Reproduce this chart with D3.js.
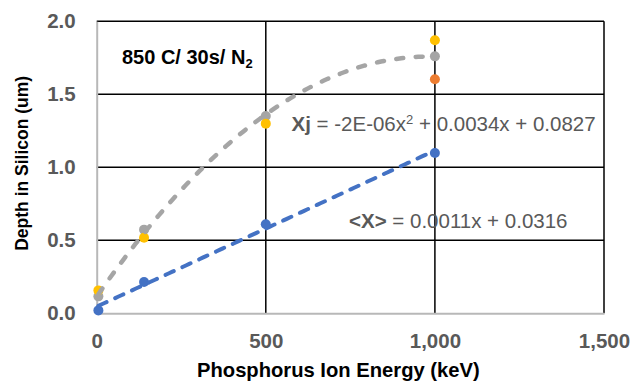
<!DOCTYPE html>
<html>
<head>
<meta charset="utf-8">
<script src="https://cdn.jsdelivr.net/npm/d3@7"></script>
<style>
  html, body { margin: 0; padding: 0; background: #fff; }
  svg { display: block; font-family: Arial, "Liberation Sans", sans-serif; }
</style>
</head>
<body>
<svg id="chart" width="634" height="382"></svg>
<script>
// Implant energy (keV) and measured depths (um)
const energies = [5, 140, 500, 1000];
const meanDepth = [0.02, 0.214, 0.61, 1.098];      // <X>
const junctionDepth = [0.116, 0.573, 1.351, 1.76]; // Xj
const junctionHigh = [0.157, 0.518, 1.299, 1.87];
const junctionLowEnergy = [1000];
const junctionLow = [1.603];

const xTicks = [0, 500, 1000, 1500];
const yTicks = [0, 0.5, 1.0, 1.5, 2.0];

const m = { left: 96.7, right: 604, top: 21.3, bottom: 313.3 };

const svg = d3.select("#chart");
const x = d3.scaleLinear().domain([0, 1500]).range([m.left, m.right]);
const y = d3.scaleLinear().domain([0, 2]).range([m.bottom, m.top]);

// gridlines
const grid = svg.append("g");
grid.selectAll("line.h").data(yTicks.filter(d => d > 0)).join("line")
  .attr("x1", m.left).attr("x2", m.right)
  .attr("y1", d => y(d)).attr("y2", d => y(d))
  .attr("stroke", "#000").attr("stroke-width", 1.5);
grid.selectAll("line.v").data(xTicks.filter(d => d > 0)).join("line")
  .attr("y1", m.top).attr("y2", m.bottom)
  .attr("x1", d => x(d)).attr("x2", d => x(d))
  .attr("stroke", "#000").attr("stroke-width", 1.5);

// axes
const xAxis = svg.append("g").attr("transform", `translate(0,${m.bottom})`)
  .call(d3.axisBottom(x).tickValues(xTicks).tickFormat(d3.format(",")).tickSize(0).tickPadding(20));
const yAxis = svg.append("g").attr("transform", `translate(${m.left},0)`)
  .call(d3.axisLeft(y).tickValues(yTicks).tickFormat(d3.format(".1f")).tickSize(0).tickPadding(21));
[xAxis, yAxis].forEach(a => {
  a.select(".domain").attr("stroke", "#b8b8b8").attr("stroke-width", 2);
  a.selectAll("text").attr("font-size", 20.5).attr("font-weight", "bold")
    .attr("fill", "#595959").attr("font-family", "Arial, 'Liberation Sans', sans-serif");
});

// least-squares polynomial fit
function polyFit(xs, ys, deg) {
  const n = deg + 1;
  const A = Array.from({ length: n }, () => new Array(n + 1).fill(0));
  xs.forEach((xv, k) => {
    for (let i = 0; i < n; i++) {
      for (let j = 0; j < n; j++) A[i][j] += Math.pow(xv, i + j);
      A[i][n] += ys[k] * Math.pow(xv, i);
    }
  });
  for (let i = 0; i < n; i++) {
    let p = i;
    for (let r = i + 1; r < n; r++) if (Math.abs(A[r][i]) > Math.abs(A[p][i])) p = r;
    [A[i], A[p]] = [A[p], A[i]];
    for (let r = 0; r < n; r++) {
      if (r === i) continue;
      const f = A[r][i] / A[i][i];
      for (let c = i; c <= n; c++) A[r][c] -= f * A[i][c];
    }
  }
  return A.map((row, i) => row[n] / row[i]);
}
const evalPoly = (c, xv) => c.reduce((s, ci, i) => s + ci * Math.pow(xv, i), 0);

const linCoef = polyFit(energies, meanDepth, 1);
const quadCoef = polyFit(energies, junctionDepth, 2);
const xMin = d3.min(energies), xMax = d3.max(energies);
const sample = d3.range(0, 101).map(i => xMin + (xMax - xMin) * i / 100);

const line = d3.line().x(d => x(d[0])).y(d => y(d[1]));

// points
const series = [
  { xs: energies, ys: meanDepth, color: "#4472C4" },
  { xs: energies, ys: junctionDepth, color: "#A5A5A5" },
  { xs: energies, ys: junctionHigh, color: "#FFC000" },
  { xs: junctionLowEnergy, ys: junctionLow, color: "#ED7D31" }
];
series.forEach(s => {
  svg.append("g").selectAll("circle").data(s.xs.map((xv, i) => [xv, s.ys[i]])).join("circle")
    .attr("cx", d => x(d[0])).attr("cy", d => y(d[1])).attr("r", 5)
    .attr("fill", s.color);
});

// trendlines
svg.append("path").datum(sample.map(v => [v, evalPoly(quadCoef, v)]))
  .attr("d", line).attr("fill", "none").attr("stroke", "#A5A5A5")
  .attr("stroke-width", 4.5).attr("stroke-linecap", "round")
  .attr("stroke-dasharray", "7,12.5");
svg.append("path").datum(sample.map(v => [v, evalPoly(linCoef, v)]))
  .attr("d", line).attr("fill", "none").attr("stroke", "#4472C4")
  .attr("stroke-width", 4).attr("stroke-linecap", "round")
  .attr("stroke-dasharray", "9,9.5");

// annotations
const cond = svg.append("text").attr("x", 122).attr("y", 64)
  .attr("font-size", 20).attr("font-weight", "bold").attr("fill", "#000");
cond.append("tspan").text("850 C/ 30s/ N");
cond.append("tspan").attr("font-size", 13).attr("dy", 4).text("2");

const eq1 = svg.append("text").attr("x", 291.5).attr("y", 131)
  .attr("font-size", 20.5).attr("fill", "#595959");
eq1.append("tspan").attr("font-weight", "bold").text("Xj");
eq1.append("tspan").text(" = -2E-06x");
eq1.append("tspan").attr("font-size", 13).attr("dy", -7).text("2");
eq1.append("tspan").attr("dy", 7).text(" + 0.0034x + 0.0827");

const eq2 = svg.append("text").attr("x", 349).attr("y", 228)
  .attr("font-size", 20.5).attr("fill", "#595959");
eq2.append("tspan").attr("font-weight", "bold").text("<X>");
eq2.append("tspan").text(" = 0.0011x + 0.0316");

// axis titles
svg.append("text").attr("x", (m.left + m.right) / 2 - 12).attr("y", 377)
  .attr("text-anchor", "middle").attr("font-size", 20.2).attr("font-weight", "bold")
  .attr("fill", "#000").text("Phosphorus Ion Energy (keV)");
svg.append("text").attr("transform", `translate(27.5,${(m.top + m.bottom) / 2 - 4}) rotate(-90)`)
  .attr("text-anchor", "middle").attr("font-size", 17.5).attr("font-weight", "bold")
  .attr("fill", "#000").text("Depth in Silicon (um)");
</script>
</body>
</html>
